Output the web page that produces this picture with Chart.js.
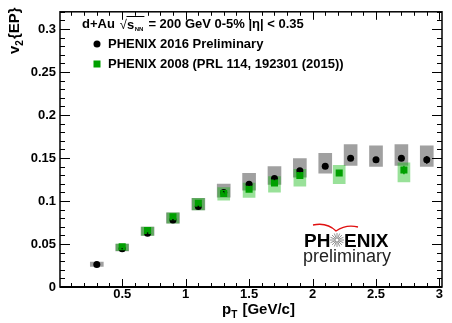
<!DOCTYPE html>
<html>
<head>
<meta charset="utf-8">
<script src="https://cdn.jsdelivr.net/npm/chart.js@4.4.1/dist/chart.umd.min.js"></script>
<style>
  html, body { margin: 0; padding: 0; background: #fff; }
</style>
</head>
<body>
<canvas id="c" width="452" height="323"></canvas>
<script>
// PHENIX 2016 preliminary (black dots, gray sys boxes)
const ptNew     = [0.3, 0.5, 0.7, 0.9, 1.1, 1.3, 1.5, 1.7, 1.9, 2.1, 2.3, 2.5, 2.7, 2.9];
const v2New     = [0.0262, 0.0445, 0.0625, 0.078, 0.0935, 0.110, 0.1194, 0.1262, 0.1353, 0.1403, 0.1497, 0.1479, 0.1497, 0.1479];
const v2NewStat = [0.0005, 0.0005, 0.001, 0.001, 0.001, 0.0015, 0.002, 0.002, 0.002, 0.0025, 0.003, 0.003, 0.003, 0.0045];
const v2NewSysLo = [0.0239, 0.0420, 0.0600, 0.0741, 0.0897, 0.1045, 0.1125, 0.1194, 0.1277, 0.1323, 0.1414, 0.1402, 0.1414, 0.1402];
const v2NewSysHi = [0.0289, 0.0500, 0.0696, 0.0863, 0.1030, 0.1197, 0.1323, 0.1399, 0.1494, 0.1554, 0.1657, 0.1642, 0.1657, 0.1642];

// PHENIX 2008 (green squares, green sys boxes)
const ptOld     = [0.5, 0.7, 0.9, 1.1, 1.3, 1.5, 1.7, 1.9, 2.21, 2.72];
const v2Old     = [0.0467, 0.0658, 0.0817, 0.0973, 0.1087, 0.1137, 0.1209, 0.1296, 0.1326, 0.1360];
const v2OldStat = [0.0005, 0.001, 0.001, 0.001, 0.0015, 0.002, 0.002, 0.003, 0.003, 0.005];
const v2OldSysLo = [0.0422, 0.0601, 0.0741, 0.0897, 0.1011, 0.1041, 0.1103, 0.1171, 0.1201, 0.1223];
const v2OldSysHi = [0.0498, 0.0696, 0.0863, 0.1030, 0.1155, 0.1209, 0.1285, 0.1368, 0.1414, 0.1445];

const xTicks = [0.5, 1, 1.5, 2, 2.5, 3];
const yTicks = [0, 0.05, 0.1, 0.15, 0.2, 0.25, 0.3];
const xMinorStep = 0.1, yMinorStep = 0.01;

const GREEN = '#00a000';
const FONT = '"Liberation Sans", Arial, Helvetica, sans-serif';

// frame, inward ticks, titles, legend, logo, error bars
const rootStyle = {
  id: 'rootStyle',
  afterDatasetsDraw(chart) {
    const { ctx, scales: { x, y } } = chart;
    ctx.save();
    ctx.lineWidth = 1.5;
    const bars = (xs, vs, es, col) => {
      ctx.strokeStyle = col;
      xs.forEach((p, i) => {
        const px = x.getPixelForValue(p);
        ctx.beginPath();
        ctx.moveTo(px, y.getPixelForValue(vs[i] - es[i]));
        ctx.lineTo(px, y.getPixelForValue(vs[i] + es[i]));
        ctx.stroke();
      });
    };
    bars(ptNew, v2New, v2NewStat, '#000');
    bars(ptOld, v2Old, v2OldStat, GREEN);
    ctx.restore();
  },
  afterDraw(chart) {
    const { ctx, chartArea: { left, right, top, bottom }, scales: { x, y } } = chart;
    ctx.save();
    ctx.strokeStyle = '#000';

    // ticks
    ctx.lineWidth = 1;
    ctx.beginPath();
    for (let k = 1; k * xMinorStep <= x.max + 1e-9; k++) {
      const px = Math.round(x.getPixelForValue(k * xMinorStep)) + 0.5;
      const len = k % 5 === 0 ? 8 : 4;
      ctx.moveTo(px, bottom); ctx.lineTo(px, bottom - len);
      ctx.moveTo(px, top); ctx.lineTo(px, top + len);
    }
    for (let k = 1; k * yMinorStep <= y.max + 1e-9; k++) {
      const py = Math.round(y.getPixelForValue(k * yMinorStep)) + 0.5;
      const len = k % 5 === 0 ? 10 : 5;
      ctx.moveTo(left, py); ctx.lineTo(left + len, py);
      ctx.moveTo(right, py); ctx.lineTo(right - len, py);
    }
    ctx.stroke();

    // frame
    ctx.lineWidth = 1.5;
    ctx.strokeRect(left, top, right - left, bottom - top);
    ctx.lineWidth = 2;
    ctx.beginPath(); ctx.moveTo(left, bottom); ctx.lineTo(right, bottom); ctx.stroke();

    ctx.fillStyle = '#000';
    ctx.textBaseline = 'alphabetic';
    ctx.textAlign = 'left';

    // x title
    let cx = 222;
    ctx.font = 'bold 15px ' + FONT;
    ctx.fillText('p', cx, 314); cx += ctx.measureText('p').width;
    ctx.font = 'bold 10px ' + FONT;
    ctx.fillText('T', cx, 318); cx += ctx.measureText('T').width + 1;
    ctx.font = 'bold 15px ' + FONT;
    ctx.fillText(' [GeV/c]', cx, 314);

    // y title (rotated)
    ctx.save();
    ctx.translate(18.5, 54);
    ctx.rotate(-Math.PI / 2);
    cx = 0;
    ctx.font = 'bold 15px ' + FONT;
    ctx.fillText('v', cx, 0); cx += ctx.measureText('v').width;
    ctx.font = 'bold 10px ' + FONT;
    ctx.fillText('2', cx, 4); cx += ctx.measureText('2').width + 1;
    ctx.font = 'bold 15px ' + FONT;
    ctx.fillText('{EP}', cx, 0);
    ctx.restore();

    // legend header
    ctx.textBaseline = 'middle';
    ctx.font = 'bold 13px ' + FONT;
    cx = 82;
    ctx.fillText('d+Au', cx, 24); cx += ctx.measureText('d+Au').width + 5;
    ctx.font = '13px ' + FONT;
    ctx.fillText('\u221A', cx, 25);
    const sx = cx + ctx.measureText('\u221A').width;
    ctx.font = 'bold 13px ' + FONT;
    ctx.fillText('s', sx, 25);
    const nx = sx + ctx.measureText('s').width + 0.5;
    ctx.font = 'bold 6px ' + FONT;
    ctx.fillText('NN', nx, 29);
    const ex = nx + ctx.measureText('NN').width + 1;
    ctx.lineWidth = 1;
    ctx.beginPath(); ctx.moveTo(sx - 0.5, 16.5); ctx.lineTo(ex, 16.5); ctx.stroke();
    ctx.font = 'bold 13px ' + FONT;
    ctx.fillText('= 200 GeV 0-5% |\u03B7| < 0.35', ex + 4, 24);

    // legend entries
    ctx.beginPath(); ctx.arc(97, 44, 3.5, 0, Math.PI * 2); ctx.fill();
    ctx.fillText('PHENIX 2016 Preliminary', 108, 44);
    ctx.fillStyle = GREEN;
    ctx.fillRect(93.5, 60.5, 7, 7);
    ctx.fillStyle = '#000';
    ctx.fillText('PHENIX 2008 (PRL 114, 192301 (2015))', 108, 64);

    // PHENIX preliminary logo
    ctx.textBaseline = 'alphabetic';
    ctx.font = 'bold 19px ' + FONT;
    ctx.fillText('PH', 304, 247);
    ctx.fillText('ENIX', 344, 247);
    ctx.strokeStyle = '#777';
    ctx.lineWidth = 0.8;
    ctx.beginPath();
    for (let k = 0; k < 16; k++) {
      const a = k * Math.PI / 8;
      ctx.moveTo(337 + 1.5 * Math.cos(a), 240 + 1.5 * Math.sin(a));
      ctx.lineTo(337 + 7 * Math.cos(a), 240 + 7 * Math.sin(a));
    }
    ctx.stroke();
    ctx.strokeStyle = '#e01010';
    ctx.lineWidth = 1.3;
    ctx.beginPath();
    ctx.moveTo(313, 225);
    ctx.quadraticCurveTo(327, 222, 336, 231);
    ctx.quadraticCurveTo(346, 224, 358, 227);
    ctx.stroke();
    ctx.fillStyle = '#222';
    ctx.font = '18px ' + FONT;
    ctx.fillText('preliminary', 303, 262);

    ctx.restore();
  }
};

const tickFont = { family: FONT, size: 13, weight: 'bold' };

new Chart(document.getElementById('c'), {
  type: 'bar',
  data: {
    datasets: [
      {
        type: 'bar',
        data: ptNew.map((p, i) => ({ x: p, y: [v2NewSysLo[i], v2NewSysHi[i]] })),
        backgroundColor: '#a0a0a0',
        borderWidth: 0,
        barThickness: 13,
        grouped: false,
        order: 4
      },
      {
        type: 'bar',
        data: ptOld.map((p, i) => ({ x: p, y: [v2OldSysLo[i], v2OldSysHi[i]] })),
        backgroundColor: 'rgba(0, 180, 0, 0.4)',
        borderWidth: 0,
        barThickness: 12,
        grouped: false,
        order: 3
      },
      {
        type: 'line',
        data: ptNew.map((p, i) => ({ x: p, y: v2New[i] })),
        showLine: false,
        pointStyle: 'circle',
        pointRadius: 3.5,
        pointBackgroundColor: '#000',
        pointBorderWidth: 0,
        order: 2
      },
      {
        type: 'line',
        data: ptOld.map((p, i) => ({ x: p, y: v2Old[i] })),
        showLine: false,
        pointStyle: 'rect',
        pointRadius: 5,
        pointBackgroundColor: GREEN,
        pointBorderWidth: 0,
        order: 1
      }
    ]
  },
  options: {
    responsive: false,
    animation: false,
    devicePixelRatio: 1,
    layout: { padding: { left: 0, right: 10, top: 7, bottom: 0 } },
    plugins: { legend: { display: false }, tooltip: { enabled: false } },
    scales: {
      x: {
        type: 'linear',
        min: 0.01,
        max: 3.02,
        offset: false,
        grid: { display: false, drawTicks: false },
        border: { display: false },
        ticks: { font: tickFont, color: '#000', padding: 0, maxRotation: 0, autoSkip: false, callback: v => String(v) },
        afterBuildTicks: s => { s.ticks = xTicks.map(v => ({ value: v })); },
        afterFit: s => { s.height = 36; }
      },
      y: {
        type: 'linear',
        min: 0,
        max: 0.32,
        grid: { display: false, drawTicks: false },
        border: { display: false },
        ticks: { font: tickFont, color: '#000', padding: 4, autoSkip: false, callback: v => String(v) },
        afterBuildTicks: s => { s.ticks = yTicks.map(v => ({ value: v })); },
        afterFit: s => { s.width = 60; }
      }
    }
  },
  plugins: [rootStyle]
});
</script>
</body>
</html>
